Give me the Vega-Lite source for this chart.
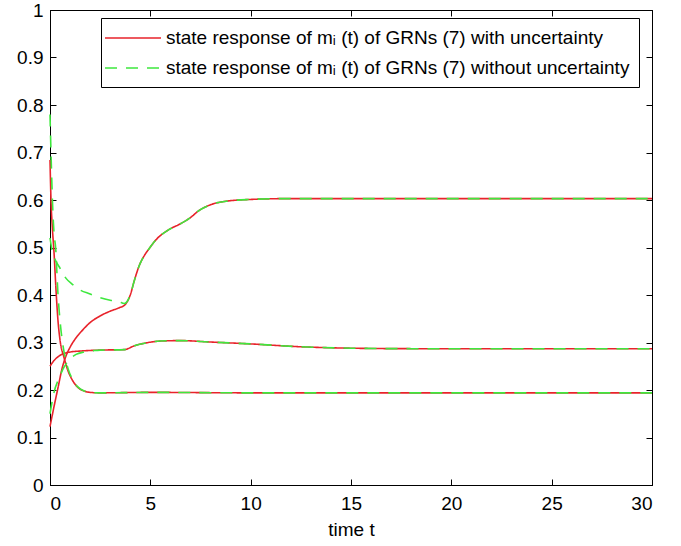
{
  "$schema": "https://vega.github.io/schema/vega-lite/v6.json",
  "width": 602,
  "height": 475,
  "autosize": {"type": "none"},
  "padding": {"left": 50, "top": 10, "right": 29, "bottom": 61},
  "config": {
    "font": "Liberation Sans",
    "view": {"stroke": "black", "strokeWidth": 1},
    "axis": {
      "grid": false,
      "domainColor": "black",
      "tickColor": "black",
      "labelColor": "black",
      "titleColor": "black",
      "labelFontSize": 19,
      "titleFontSize": 19,
      "titleFontWeight": "normal",
      "tickSize": -6,
      "domainWidth": 1,
      "tickWidth": 1
    },
    "legend": {
      "title": null,
      "fillColor": "white",
      "strokeColor": "black",
      "padding": 9,
      "rowPadding": 9,
      "labelFontSize": 19,
      "labelLimit": 700,
      "labelColor": "black",
      "labelOffset": 34,
      "symbolType": "M-1.6,0H4",
      "symbolSize": 400,
      "symbolStrokeWidth": 1.6,
      "symbolFillColor": "transparent"
    }
  },
  "data": {
    "values": [
      {"series": "with", "curve": "A", "t": 0, "v": 0.123},
      {"series": "with", "curve": "A", "t": 0.2, "v": 0.165},
      {"series": "with", "curve": "A", "t": 0.4, "v": 0.205},
      {"series": "with", "curve": "A", "t": 0.6, "v": 0.245},
      {"series": "with", "curve": "A", "t": 0.8, "v": 0.272},
      {"series": "with", "curve": "A", "t": 1.0, "v": 0.29},
      {"series": "with", "curve": "A", "t": 1.3, "v": 0.31},
      {"series": "with", "curve": "A", "t": 1.6, "v": 0.325},
      {"series": "with", "curve": "A", "t": 2.0, "v": 0.342},
      {"series": "with", "curve": "A", "t": 2.5, "v": 0.356},
      {"series": "with", "curve": "A", "t": 3.0, "v": 0.366},
      {"series": "with", "curve": "A", "t": 3.5, "v": 0.374},
      {"series": "with", "curve": "A", "t": 3.7, "v": 0.378},
      {"series": "with", "curve": "A", "t": 4.0, "v": 0.4},
      {"series": "with", "curve": "A", "t": 4.2, "v": 0.43},
      {"series": "with", "curve": "A", "t": 4.43, "v": 0.46},
      {"series": "with", "curve": "A", "t": 4.7, "v": 0.483},
      {"series": "with", "curve": "A", "t": 4.93, "v": 0.497},
      {"series": "with", "curve": "A", "t": 5.3, "v": 0.517},
      {"series": "with", "curve": "A", "t": 5.9, "v": 0.537},
      {"series": "with", "curve": "A", "t": 6.5, "v": 0.55},
      {"series": "with", "curve": "A", "t": 7.0, "v": 0.563},
      {"series": "with", "curve": "A", "t": 7.4, "v": 0.577},
      {"series": "with", "curve": "A", "t": 8.0, "v": 0.59},
      {"series": "with", "curve": "A", "t": 8.7, "v": 0.597},
      {"series": "with", "curve": "A", "t": 9.9, "v": 0.601},
      {"series": "with", "curve": "A", "t": 12, "v": 0.603},
      {"series": "with", "curve": "A", "t": 30, "v": 0.603},

      {"series": "with", "curve": "B", "t": 0, "v": 0.25},
      {"series": "with", "curve": "B", "t": 0.2, "v": 0.262},
      {"series": "with", "curve": "B", "t": 0.4, "v": 0.27},
      {"series": "with", "curve": "B", "t": 0.7, "v": 0.277},
      {"series": "with", "curve": "B", "t": 1.0, "v": 0.28},
      {"series": "with", "curve": "B", "t": 1.5, "v": 0.282},
      {"series": "with", "curve": "B", "t": 2.5, "v": 0.284},
      {"series": "with", "curve": "B", "t": 3.7, "v": 0.285},
      {"series": "with", "curve": "B", "t": 4.2, "v": 0.293},
      {"series": "with", "curve": "B", "t": 4.9, "v": 0.3},
      {"series": "with", "curve": "B", "t": 5.5, "v": 0.303},
      {"series": "with", "curve": "B", "t": 6.5, "v": 0.304},
      {"series": "with", "curve": "B", "t": 8, "v": 0.301},
      {"series": "with", "curve": "B", "t": 10, "v": 0.297},
      {"series": "with", "curve": "B", "t": 12.5, "v": 0.291},
      {"series": "with", "curve": "B", "t": 15, "v": 0.288},
      {"series": "with", "curve": "B", "t": 18, "v": 0.287},
      {"series": "with", "curve": "B", "t": 30, "v": 0.287},

      {"series": "with", "curve": "C", "t": 0, "v": 0.684},
      {"series": "with", "curve": "C", "t": 0.05, "v": 0.6},
      {"series": "with", "curve": "C", "t": 0.12, "v": 0.54},
      {"series": "with", "curve": "C", "t": 0.2, "v": 0.49},
      {"series": "with", "curve": "C", "t": 0.3, "v": 0.41},
      {"series": "with", "curve": "C", "t": 0.4, "v": 0.345},
      {"series": "with", "curve": "C", "t": 0.5, "v": 0.305},
      {"series": "with", "curve": "C", "t": 0.7, "v": 0.268},
      {"series": "with", "curve": "C", "t": 0.9, "v": 0.24},
      {"series": "with", "curve": "C", "t": 1.1, "v": 0.222},
      {"series": "with", "curve": "C", "t": 1.4, "v": 0.205},
      {"series": "with", "curve": "C", "t": 1.7, "v": 0.198},
      {"series": "with", "curve": "C", "t": 2.0, "v": 0.195},
      {"series": "with", "curve": "C", "t": 2.5, "v": 0.194},
      {"series": "with", "curve": "C", "t": 5, "v": 0.195},
      {"series": "with", "curve": "C", "t": 10, "v": 0.194},
      {"series": "with", "curve": "C", "t": 30, "v": 0.194},

      {"series": "without", "curve": "A", "t": 0, "v": 0.52},
      {"series": "without", "curve": "A", "t": 0.1, "v": 0.495},
      {"series": "without", "curve": "A", "t": 0.25, "v": 0.475},
      {"series": "without", "curve": "A", "t": 0.45, "v": 0.46},
      {"series": "without", "curve": "A", "t": 0.8, "v": 0.435},
      {"series": "without", "curve": "A", "t": 1.1, "v": 0.423},
      {"series": "without", "curve": "A", "t": 1.44, "v": 0.412},
      {"series": "without", "curve": "A", "t": 2.0, "v": 0.402},
      {"series": "without", "curve": "A", "t": 2.44, "v": 0.395},
      {"series": "without", "curve": "A", "t": 3.0, "v": 0.389},
      {"series": "without", "curve": "A", "t": 3.44, "v": 0.386},
      {"series": "without", "curve": "A", "t": 3.7, "v": 0.382},
      {"series": "without", "curve": "A", "t": 4.0, "v": 0.4},
      {"series": "without", "curve": "A", "t": 4.2, "v": 0.43},
      {"series": "without", "curve": "A", "t": 4.43, "v": 0.46},
      {"series": "without", "curve": "A", "t": 4.7, "v": 0.483},
      {"series": "without", "curve": "A", "t": 4.93, "v": 0.497},
      {"series": "without", "curve": "A", "t": 5.3, "v": 0.517},
      {"series": "without", "curve": "A", "t": 5.9, "v": 0.537},
      {"series": "without", "curve": "A", "t": 6.5, "v": 0.55},
      {"series": "without", "curve": "A", "t": 7.0, "v": 0.563},
      {"series": "without", "curve": "A", "t": 7.4, "v": 0.577},
      {"series": "without", "curve": "A", "t": 8.0, "v": 0.59},
      {"series": "without", "curve": "A", "t": 8.7, "v": 0.597},
      {"series": "without", "curve": "A", "t": 9.9, "v": 0.601},
      {"series": "without", "curve": "A", "t": 12, "v": 0.603},
      {"series": "without", "curve": "A", "t": 30, "v": 0.603},

      {"series": "without", "curve": "B", "t": 0, "v": 0.15},
      {"series": "without", "curve": "B", "t": 0.2, "v": 0.195},
      {"series": "without", "curve": "B", "t": 0.45, "v": 0.225},
      {"series": "without", "curve": "B", "t": 0.7, "v": 0.248},
      {"series": "without", "curve": "B", "t": 0.95, "v": 0.263},
      {"series": "without", "curve": "B", "t": 1.3, "v": 0.275},
      {"series": "without", "curve": "B", "t": 1.7, "v": 0.28},
      {"series": "without", "curve": "B", "t": 2.2, "v": 0.283},
      {"series": "without", "curve": "B", "t": 2.5, "v": 0.284},
      {"series": "without", "curve": "B", "t": 3.7, "v": 0.285},
      {"series": "without", "curve": "B", "t": 4.2, "v": 0.293},
      {"series": "without", "curve": "B", "t": 4.9, "v": 0.3},
      {"series": "without", "curve": "B", "t": 5.5, "v": 0.303},
      {"series": "without", "curve": "B", "t": 6.5, "v": 0.304},
      {"series": "without", "curve": "B", "t": 8, "v": 0.301},
      {"series": "without", "curve": "B", "t": 10, "v": 0.297},
      {"series": "without", "curve": "B", "t": 12.5, "v": 0.291},
      {"series": "without", "curve": "B", "t": 15, "v": 0.288},
      {"series": "without", "curve": "B", "t": 18, "v": 0.287},
      {"series": "without", "curve": "B", "t": 30, "v": 0.287},

      {"series": "without", "curve": "C", "t": 0, "v": 0.78},
      {"series": "without", "curve": "C", "t": 0.05, "v": 0.7},
      {"series": "without", "curve": "C", "t": 0.12, "v": 0.6},
      {"series": "without", "curve": "C", "t": 0.2, "v": 0.53},
      {"series": "without", "curve": "C", "t": 0.28, "v": 0.5},
      {"series": "without", "curve": "C", "t": 0.4, "v": 0.4},
      {"series": "without", "curve": "C", "t": 0.53, "v": 0.333},
      {"series": "without", "curve": "C", "t": 0.7, "v": 0.28},
      {"series": "without", "curve": "C", "t": 0.9, "v": 0.245},
      {"series": "without", "curve": "C", "t": 1.1, "v": 0.224},
      {"series": "without", "curve": "C", "t": 1.4, "v": 0.206},
      {"series": "without", "curve": "C", "t": 1.7, "v": 0.198},
      {"series": "without", "curve": "C", "t": 2.0, "v": 0.195},
      {"series": "without", "curve": "C", "t": 2.5, "v": 0.194},
      {"series": "without", "curve": "C", "t": 5, "v": 0.195},
      {"series": "without", "curve": "C", "t": 10, "v": 0.194},
      {"series": "without", "curve": "C", "t": 30, "v": 0.194}
    ]
  },
  "layer": [
    {
      "mark": {"type": "line", "strokeWidth": 1.6, "interpolate": "monotone"},
      "encoding": {
        "x": {
          "field": "t", "type": "quantitative",
          "scale": {"domain": [0, 30], "nice": false},
          "axis": {"title": "time t", "values": [0, 5, 10, 15, 20, 25, 30], "labelPadding": 15, "titlePadding": 7}
        },
        "y": {
          "field": "v", "type": "quantitative",
          "scale": {"domain": [0, 1], "nice": false},
          "axis": {"title": null, "values": [0, 0.1, 0.2, 0.3, 0.4, 0.5, 0.6, 0.7, 0.8, 0.9, 1], "format": "~g", "labelPadding": 13}
        },
        "color": {
          "field": "series", "type": "nominal",
          "scale": {"domain": ["with", "without"], "range": ["#e8232b", "#3ee83e"]},
          "legend": {
            "orient": "none",
            "legendX": 51,
            "legendY": 8,
            "labelExpr": "datum.label == 'with' ? 'state response of mᵢ (t) of GRNs (7) with uncertainty' : 'state response of mᵢ (t) of GRNs (7) without uncertainty\u00a0\u00a0\u00a0'"
          }
        },
        "strokeDash": {
          "field": "series", "type": "nominal",
          "scale": {"domain": ["with", "without"], "range": [[1, 0], [12, 9]]},
          "legend": {
            "orient": "none",
            "legendX": 51,
            "legendY": 8,
            "labelExpr": "datum.label == 'with' ? 'state response of mᵢ (t) of GRNs (7) with uncertainty' : 'state response of mᵢ (t) of GRNs (7) without uncertainty\u00a0\u00a0\u00a0'"
          }
        },
        "detail": {"field": "curve", "type": "nominal"}
      }
    },
    {
      "mark": {"type": "line", "opacity": 0},
      "encoding": {
        "x": {
          "field": "t", "type": "quantitative",
          "scale": {"domain": [0, 30], "nice": false},
          "axis": {"orient": "top", "title": null, "labels": false, "values": [0, 5, 10, 15, 20, 25, 30]}
        },
        "y": {
          "field": "v", "type": "quantitative",
          "scale": {"domain": [0, 1], "nice": false},
          "axis": {"orient": "right", "title": null, "labels": false, "values": [0, 0.1, 0.2, 0.3, 0.4, 0.5, 0.6, 0.7, 0.8, 0.9, 1]}
        },
        "detail": {"field": "curve", "type": "nominal"}
      }
    }
  ],
  "resolve": {"axis": {"x": "independent", "y": "independent"}}
}
